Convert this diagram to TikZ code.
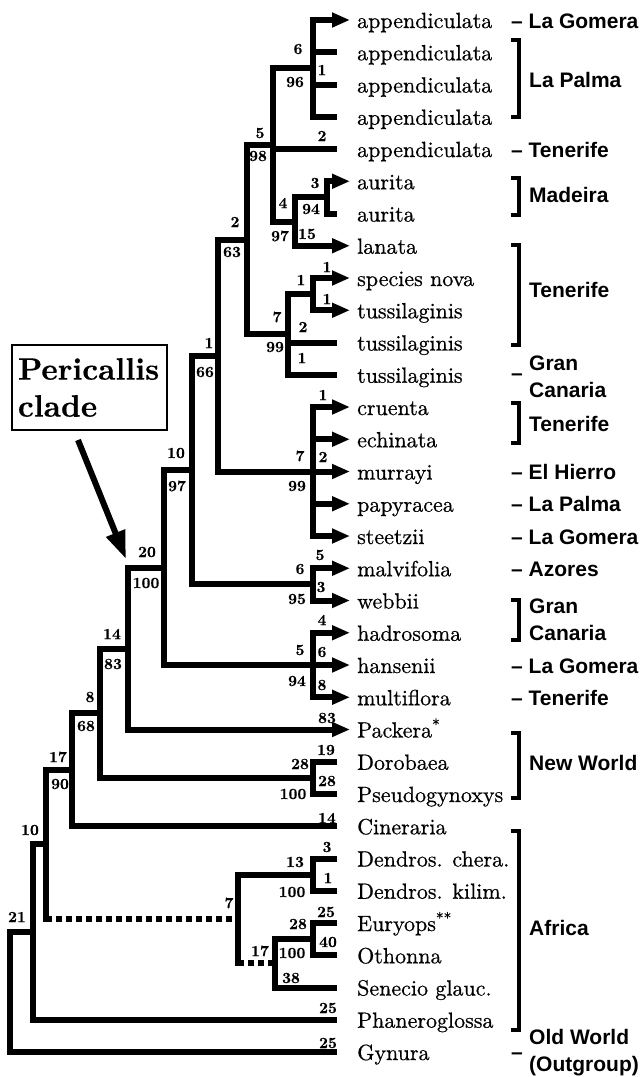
\documentclass[tikz,border=0pt]{standalone}
\usepackage{fontspec}
\newfontfamily\islandfont{Liberation Sans}
\newfontfamily\tipfont{lmroman10-regular}[Extension=.otf,FakeBold=0.6]
\newfontfamily\numfont{lmroman10-bold}[Extension=.otf,FakeBold=0.4]
\usetikzlibrary{arrows.meta}
\begin{document}
\begin{tikzpicture}[x=1pt,y=-1pt,
  br/.style={line width=6pt},
  arr/.style={line width=6pt,-{Triangle[length=18pt,width=14pt]}},
  dsh/.style={line width=6pt,dash pattern=on 6pt off 4pt},
  tiplab/.style={anchor=base west,inner sep=0pt,font=\tipfont\fontsize{22}{26}\selectfont},
  num/.style={inner sep=0pt,font=\numfont\fontsize{15.5}{16}\selectfont},
  isl/.style={anchor=base west,inner sep=0pt,font=\islandfont\bfseries\fontsize{21}{27}\selectfont},
  isl2/.style={anchor=base west,inner sep=0pt,align=left,font=\islandfont\bfseries\fontsize{21}{27}\selectfont},
  brk/.style={line width=3.5pt},
  bigarrow/.style={line width=6pt,-{Triangle[length=28pt,width=19pt]}},
]
\useasboundingbox (0,0) rectangle (643,1077);

% tip end points (arrow tips at 350, plain ends at 337)
\foreach \i/\x in {1/350,2/337,3/337,4/337,5/337,6/350,7/337,8/350,9/350,10/350,11/337,12/337,
  13/350,14/350,15/350,16/350,17/350,18/350,19/350,20/350,21/350,22/350,23/350,
  24/337,25/337,26/337,27/337,28/337,29/337,30/337,31/337,32/337,33/337}
  \coordinate (t\i) at (\x,{20+32.25*(\i-1)});

% internal nodes
\coordinate (nA) at (313,68.4);
\coordinate (nAu) at (327,197.4);
\coordinate (nC) at (295,221.6);
\coordinate (nB) at (273,145);
\coordinate (nF) at (313,294.1);
\coordinate (nE) at (288,334.4);
\coordinate (nD) at (247,239.7);
\coordinate (nH) at (313,471.5);
\coordinate (nG) at (218,355.6);
\coordinate (nK) at (313,584.4);
\coordinate (nJ) at (192,470);
\coordinate (nM) at (313,665);
\coordinate (nP) at (164,567.5);
\coordinate (nN) at (128,648.5);
\coordinate (nQ) at (313,777.9);
\coordinate (nO) at (100,713.2);
\coordinate (nR) at (72,769.7);
\coordinate (nU) at (313,874.6);
\coordinate (nW) at (313,939.1);
\coordinate (nV) at (275,963.3);
\coordinate (nT) at (238,919);
\coordinate (nS) at (46,844.3);
\coordinate (nX) at (33,932);
\coordinate (nRoot) at (10,992);

% branches
\draw[arr] (nA) |- (t1);
\draw[br] (nA) |- (t2) (nA) |- (t3) (nA) |- (t4);
\draw[br] (nB) |- (nA) (nB) |- (t5) (nB) |- (nC);
\draw[br] (nC) |- (nAu);
\draw[arr] (nC) |- (t8);
\draw[arr] (nAu) |- (t6);
\draw[br] (nAu) |- (t7);
\draw[br] (nD) |- (nB) (nD) |- (nE);
\draw[br] (nE) |- (nF) (nE) |- (t11) (nE) |- (t12);
\draw[arr] (nF) |- (t9);
\draw[arr] (nF) |- (t10);
\draw[br] (nG) |- (nD) (nG) |- (nH);
\foreach \t in {t13,t14,t15,t16,t17} \draw[arr] (nH) |- (\t);
\draw[br] (nJ) |- (nG) (nJ) |- (nK);
\foreach \t in {t18,t19} \draw[arr] (nK) |- (\t);
\draw[br] (nP) |- (nJ) (nP) |- (nM);
\foreach \t in {t20,t21,t22} \draw[arr] (nM) |- (\t);
\draw[br] (nN) |- (nP);
\draw[arr] (nN) |- (t23);
\draw[br] (nO) |- (nN) (nO) |- (nQ);
\draw[br] (nQ) |- (t24) (nQ) |- (t25);
\draw[br] (nR) |- (nO) (nR) |- (t26);
\draw[br] (nS) |- (nR);
\draw[br,line cap=rect] (nS) -- (nS |- nT);
\draw[dsh] (nS |- nT) -- (nT);
\draw[br] (nT) |- (nU);
\draw[br,line cap=rect] (nT) -- (nT |- nV);
\draw[dsh] (nT |- nV) -- (nV);
\draw[br] (nU) |- (t27) (nU) |- (t28);
\draw[br] (nV) |- (nW) (nV) |- (t31);
\draw[br] (nW) |- (t29) (nW) |- (t30);
\draw[br] (nX) |- (nS) (nX) |- (t32);
\draw[br] (nRoot) |- (nX) (nRoot) |- (t33);

% tip labels
\foreach \i/\name in {1/appendiculata,2/appendiculata,3/appendiculata,4/appendiculata,5/appendiculata,
  6/aurita,7/aurita,8/lanata,9/species nova,10/tussilaginis,11/tussilaginis,12/tussilaginis,
  13/cruenta,14/echinata,15/murrayi,16/papyracea,17/steetzii,18/malvifolia,19/webbii,
  20/hadrosoma,21/hansenii,22/multiflora,23/Packera\textsuperscript{*},24/Dorobaea,
  25/Pseudogynoxys,26/Cineraria,27/Dendros. chera.,28/Dendros. kilim.,
  29/Euryops\textsuperscript{**},30/Othonna,31/Senecio glauc.,32/Phaneroglossa,33/Gynura}
  \node[tiplab] (l\i) at (357,{20+32.25*(\i-1)+8}) {\name};

% branch numbers
\foreach \x/\y/\t [count=\k] in {298/49/6,295/82/96,322/70/1,260/133/5,258/156/98,322/136/2,
  315/183/3,283/203/4,311/209/94,280/236/97,307/234/15,235/222/2,232/252/63,301/280/1,
  327/267/1,327/299/1,277/317/7,303/327/2,275/347/99,302/358/1,209/343/1,205/372/66,
  323/395/1,176/453/10,177/486/97,300/456/7,323/457/2,297/486/99,320/555/5,300/569/6,
  321/587/3,297/599/95,322/620/4,147/552/20,146/583/100,300/650/5,322/652/6,297/681/94,
  322/685/8,112/634/14,113/664/83,327/718/83,90/697/8,86/726/68,300/764/28,326/750/19,
  327/781/28,293/794/100,58/757/17,60/784/90,327/818/14,30/830/10,327/847/3,295/862/13,
  328/878/1,292/892/100,229/903/7,17/917/21,326/912/25,298/924/28,328/942/40,260/951/17,
  292/953/100,291/978/38,328/1008/25,328/1043/25}
  \node[num] (b\k) at (\x,\y) {\t};

% island labels with dash
\node[isl] (g1) at (511,28) {– La Gomera};
\node[isl] (g5) at (511,157) {– Tenerife};
\node[isl] (g15) at (511,479.5) {– El Hierro};
\node[isl] (g16) at (511,511.75) {– La Palma};
\node[isl] (g17) at (511,544) {– La Gomera};
\node[isl] (g18) at (511,576.25) {– Azores};
\node[isl] (g21) at (511,673) {– La Gomera};
\node[isl] (g22) at (511,705.25) {– Tenerife};
\node[isl] (g12d) at (511,380) {–};
\node[isl2] (g12) at (529,397) {Gran\\Canaria};
\node[isl] (g33d) at (511,1059) {–};
\node[isl2] (g33) at (529,1071) {Old World\\(Outgroup)};

% bracketed groups
\draw[brk] (511,40) -- (519,40) -- (519,117) -- (511,117);
\node[isl] (gLP) at (529,87.5) {La Palma};
\draw[brk] (511,178) -- (519,178) -- (519,215) -- (511,215);
\node[isl] (gMa) at (529,202.5) {Madeira};
\draw[brk] (511,245) -- (519,245) -- (519,345) -- (511,345);
\node[isl] (gT1) at (529,297.5) {Tenerife};
\draw[brk] (511,403) -- (519,403) -- (519,443) -- (511,443);
\node[isl] (gT2) at (529,431.5) {Tenerife};
\draw[brk] (511,600) -- (519,600) -- (519,640) -- (511,640);
\node[isl2] (gGC) at (529,640) {Gran\\Canaria};
\draw[brk] (511,733) -- (519,733) -- (519,798) -- (511,798);
\node[isl] (gNW) at (529,770.5) {New World};
\draw[brk] (511,831) -- (519,831) -- (519,1030) -- (511,1030);
\node[isl] (gAf) at (529,935.5) {Africa};

% Pericallis clade box and arrow
\node[draw,line width=1.3pt,align=left,text width=143pt,inner xsep=6pt,minimum height=85pt,
  font=\numfont\fontsize{31}{37}\selectfont] (pc) at (89.5,387.5) {Pericallis\\clade};
\coordinate (pca) at (78,440);
\coordinate (pcb) at (126,559);
\draw[bigarrow] (pca) -- (pcb);
\end{tikzpicture}
\end{document}
